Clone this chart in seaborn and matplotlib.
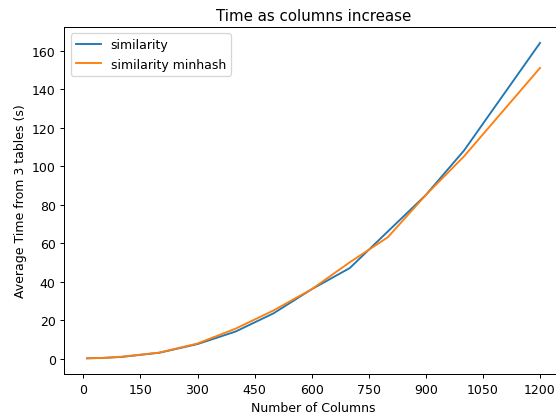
import matplotlib
matplotlib.use("Agg")
import matplotlib.pyplot as plt
import seaborn as sns
import pandas as pd

columns = [10, 50, 100, 200, 300, 400, 500, 600, 700, 800, 900, 1000, 1200]
similarity = [0.1, 0.3, 0.8, 3.0, 7.5, 14.0, 23.5, 36.0, 47.0, 66.0, 85.0, 108.0, 164.0]
similarity_minhash = [0.1, 0.3, 0.9, 3.1, 7.8, 15.5, 25.0, 36.0, 50.0, 63.0, 85.0, 105.0, 151.0]

df = pd.DataFrame({
    "cols": columns * 2,
    "time": similarity + similarity_minhash,
    "method": ["similarity"] * len(columns) + ["similarity minhash"] * len(columns),
})

DPI = 90
fig, ax = plt.subplots(figsize=(556 / DPI, 414 / DPI), dpi=DPI)
sns.lineplot(data=df, x="cols", y="time", hue="method", ax=ax,
             palette=["#1f77b4", "#ff7f0e"])
ax.legend(title=None, loc="upper left")
ax.set_xticks(range(0, 1201, 150))
ax.set_yticks(range(0, 161, 20))
ax.set_title("Time as columns increase")
ax.set_xlabel("Number of Columns")
ax.set_ylabel("Average Time from 3 tables (s)")
fig.subplots_adjust(left=0.116, right=1.012, top=0.932, bottom=0.094)
fig.savefig("out.png", dpi=DPI)
